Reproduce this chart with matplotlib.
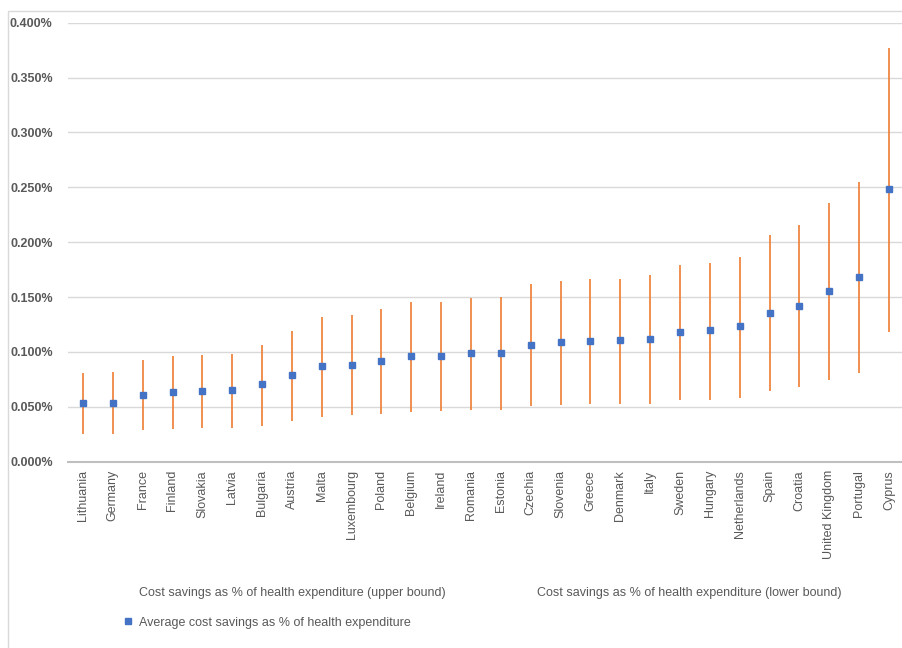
import matplotlib
matplotlib.use("Agg")
import matplotlib.pyplot as plt
from matplotlib.lines import Line2D
from matplotlib.patches import Rectangle
from matplotlib.ticker import FuncFormatter, MultipleLocator

plt.rcParams['font.family'] = ['Liberation Sans', 'DejaVu Sans']

countries = ["Lithuania", "Germany", "France", "Finland", "Slovakia", "Latvia",
             "Bulgaria", "Austria", "Malta", "Luxembourg", "Poland", "Belgium",
             "Ireland", "Romania", "Estonia", "Czechia", "Slovenia", "Greece",
             "Denmark", "Italy", "Sweden", "Hungary", "Netherlands", "Spain",
             "Croatia", "United Kingdom", "Portugal", "Cyprus"]

# Cost savings as % of health expenditure
upper_bound = [0.0811, 0.0820, 0.0923, 0.0965, 0.0975, 0.0984, 0.1060, 0.1190,
               0.1320, 0.1336, 0.1388, 0.1457, 0.1457, 0.1488, 0.1500, 0.1616,
               0.1646, 0.1664, 0.1667, 0.1700, 0.1791, 0.1812, 0.1864, 0.2062,
               0.2153, 0.2353, 0.2547, 0.3765]
lower_bound = [0.0255, 0.0255, 0.0286, 0.0295, 0.0304, 0.0304, 0.0325, 0.0368,
               0.0410, 0.0421, 0.0432, 0.0450, 0.0462, 0.0474, 0.0474, 0.0505,
               0.0514, 0.0523, 0.0523, 0.0530, 0.0565, 0.0565, 0.0583, 0.0647,
               0.0678, 0.0741, 0.0805, 0.1184]
average = [0.0537, 0.0537, 0.0610, 0.0632, 0.0641, 0.0650, 0.0705, 0.0787,
           0.0872, 0.0880, 0.0920, 0.0963, 0.0963, 0.0993, 0.0993, 0.1066,
           0.1087, 0.1097, 0.1108, 0.1117, 0.1181, 0.1200, 0.1233, 0.1357,
           0.1418, 0.1552, 0.1680, 0.2489]

TEXT = "#595959"
ORANGE = "#ED7D31"
BLUE = "#4472C4"
GRID = "#D9D9D9"
FS = 9

W, H = 903, 648
fig = plt.figure(figsize=(W / 100, H / 100), dpi=100)
fig.patch.set_facecolor("white")

# chart border
fig.add_artist(Rectangle((8 / W, -0.1), 1.2, 1 - 11 / H + 0.1, transform=fig.transFigure,
                         fill=False, edgecolor=GRID, linewidth=1.0))

ax = fig.add_axes([68 / W, 1 - 461.7 / H, (904 - 68) / W, (461.7 - 22.7) / H])
x = list(range(len(countries)))

ax.vlines(x, lower_bound, upper_bound, color=ORANGE, linewidth=1.2, zorder=2)
ax.plot(x, average, linestyle="none", marker="s", markersize=4.8,
        color=BLUE, markeredgecolor=BLUE, zorder=3)

ax.set_xlim(-0.5, len(countries) - 0.5)
ax.set_ylim(0, 0.4)
ax.yaxis.set_major_locator(MultipleLocator(0.05))
ax.yaxis.set_major_formatter(FuncFormatter(lambda v, p: f"{v:.3f}%"))
ax.grid(axis="y", color=GRID, linewidth=1.0, zorder=0)
ax.set_axisbelow(True)

for s in ["top", "right", "left"]:
    ax.spines[s].set_visible(False)
ax.spines["bottom"].set_color("#BFBFBF")
ax.spines["bottom"].set_linewidth(1.5)

ax.set_xticks(x)
ax.set_xticklabels(countries, rotation=90, va="top", ha="center")
ax.tick_params(axis="x", length=0, pad=6, labelsize=FS, labelcolor=TEXT)
ax.tick_params(axis="y", length=0, pad=11, labelsize=FS, labelcolor=TEXT)
for lbl in ax.get_yticklabels():
    lbl.set_fontweight("bold")

# legend
h_up = Line2D([], [], linestyle="none", marker=None)
h_lo = Line2D([], [], linestyle="none", marker=None)
h_avg = Line2D([], [], linestyle="none", marker="s", markersize=4, color=BLUE)
leg = fig.legend([h_up, h_avg, h_lo],
                 ["Cost savings as % of health expenditure (upper bound)",
                  "Average cost savings as % of health expenditure",
                  "Cost savings as % of health expenditure (lower bound)"],
                 ncol=2, loc="upper left", bbox_to_anchor=(117 / W, 1 - 581 / H),
                 frameon=False, fontsize=FS, labelcolor=TEXT, borderpad=0,
                 handlelength=0.8, handletextpad=0.48, columnspacing=6.0,
                 labelspacing=1.4)

fig.savefig("out.png", dpi=100)
